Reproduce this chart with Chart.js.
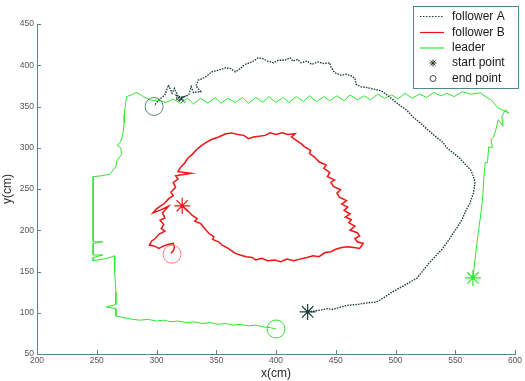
<!DOCTYPE html>
<html lang="en">

<head>
    <meta charset="UTF-8" />
    <title>Leader / followers trajectories</title>
    <script src="https://cdn.jsdelivr.net/npm/chart.js"></script>
    <style>
        body {
            margin: 0;
            background: #ffffff;
        }

        .chart-box {
            width: 525px;
            height: 381px;
        }
    </style>
</head>

<body>
    <div class="chart-box">
        <canvas id="trajChart" width="525" height="381"></canvas>
    </div>

    <script>
        // Axes
        const xTicks = [200, 250, 300, 350, 400, 450, 500, 550, 600];
        const yTicks = [50, 100, 150, 200, 250, 300, 350, 400, 450];

        // Legend entries
        const legendNames = ["follower A", "follower B", "leader", "start point", "end point"];

        // follower A trajectory [x, y] in cm
        const followerA = [
            [426.5, 101], [431, 102], [436, 103], [443, 105], [447, 104], [452, 106], [460, 109], [468, 110],
            [476, 112], [484, 113], [490, 118], [496, 124], [501, 128], [507, 133], [512, 137], [518, 142],
            [523, 151], [528, 160], [533, 168], [539, 177], [545, 189], [548, 196], [552, 204], [556, 214],
            [559, 224], [562, 232], [565, 244], [566, 252], [566.5, 259], [565, 266], [563, 273], [559, 279],
            [554, 287], [548, 294], [543, 300], [540, 306], [535, 312], [530, 318], [526, 323], [520, 331],
            [515, 337], [509, 346], [504, 351], [498, 358], [493, 364], [488, 369], [482, 371], [476, 373],
            [471, 374], [467, 377], [466, 384], [463, 387], [459, 389], [454, 388], [449, 391], [446, 398],
            [445, 403], [440, 402], [435, 404], [430, 401], [426, 405], [421, 403], [418, 407], [414, 405],
            [412, 409], [407, 406], [402, 406], [398, 403], [393, 405], [389, 408], [385, 409], [380, 404],
            [374, 401], [370, 396], [366, 392], [362, 396], [358, 397], [352, 394], [346, 392], [343, 388],
            [341, 386], [337, 383], [335, 382], [333, 375], [337, 368], [331, 367], [329, 374], [327, 364],
            [322, 361], [317, 363], [321, 358], [324, 355], [319, 362], [322, 359], [318, 357], [323, 362],
            [316, 360], [320, 356], [315, 372], [313, 366], [310, 376], [307, 364], [302, 358], [298, 351]
        ];

        // follower B trajectory
        const followerB = [
            [321.5, 229.6], [326, 224], [330, 218], [334, 214], [332, 211], [337, 208], [341, 201], [344, 196],
            [348, 192], [347, 189], [352, 186], [355, 182], [359, 179], [363, 175], [366, 172], [370, 170],
            [375, 168], [380, 167], [383, 164], [388, 166], [393, 163], [399, 164], [404, 162], [409, 165],
            [415, 163], [420, 165], [426, 167], [431, 169], [436, 168], [441, 173], [446, 174], [450, 177],
            [455, 179], [460, 180], [465, 179], [470, 178], [473, 184], [468, 186], [466, 190], [470, 193],
            [468, 197], [462, 200], [466, 205], [461, 209], [463, 213], [458, 216], [462, 220], [457, 224],
            [460, 228], [455, 232], [459, 236], [453, 240], [451, 245], [454, 249], [448, 253], [446, 258],
            [449, 261], [443, 265], [445, 270], [440, 275], [442, 279], [436, 283], [432, 289], [428, 293],
            [429, 297], [424, 301], [421, 305], [417, 309], [413, 313], [416, 317], [410, 316], [405, 318],
            [400, 316], [395, 318], [391, 315], [386, 314], [381, 313], [377, 311], [373, 315], [368, 316],
            [363, 318], [358, 317], [352, 313], [346, 310], [341, 306], [337, 302], [333, 297], [330, 292],
            [326, 287], [324, 282], [320, 276], [318, 271], [329, 269], [316, 266], [318, 262], [314, 258],
            [316, 252], [312, 246], [314, 242], [310, 238], [307, 233], [300, 226], [297, 221], [304, 225],
            [310, 229], [305, 221], [307, 215], [303, 212], [306, 207], [304, 202], [307, 199], [302, 195],
            [299, 190], [296, 187], [294, 182], [298, 181], [302, 178], [306, 181], [310, 183], [314, 184],
            [315, 179], [314, 175], [312, 172]
        ];

        // leader trajectory
        const leader = [
            [564.8, 142.2], [567, 170], [569, 195], [571, 215], [573, 240], [574, 265], [575, 282], [577, 282],
            [578, 301], [581, 300], [580, 310], [582, 313], [584, 322], [586, 334], [590, 326], [589, 338],
            [592, 346], [595, 342], [586, 348], [580, 358], [573, 364], [571.5, 366.7],
            [563, 365], [556, 368], [549, 362], [543, 366], [538, 363], [532, 367], [526, 361], [520, 365],
            [514, 360], [508, 366], [502, 359], [497, 364], [491, 360], [485, 365], [479, 358], [474, 363],
            [468, 358], [462, 364], [457, 357], [451, 363], [445, 357], [440, 362], [434, 356], [428, 363],
            [423, 356], [417, 362], [411, 355], [406, 361], [400, 355], [394, 362], [389, 355], [383, 361],
            [377, 354], [372, 361], [366, 355], [360, 360], [354, 354], [349, 361], [343, 354], [337, 360],
            [331, 353], [326, 360], [320, 354], [314, 359], [308, 355],
            [301, 358], [296, 357], [292, 360], [289, 362], [286, 365], [283, 367], [279, 364], [275, 362],
            [274, 352], [273, 340], [273, 330], [272, 318], [270, 307], [267, 303], [270, 300], [271, 292],
            [267, 285], [266, 277], [261, 268], [254, 266], [247, 265], [247, 240], [247, 210], [247, 186],
            [255, 186], [247, 184], [247, 170], [255, 170], [247, 167], [247, 163], [259, 166], [265, 169],
            [265, 150], [266, 125], [266, 110], [258, 107], [266, 105], [266, 96], [273, 94], [280, 92],
            [286, 91], [293, 92], [300, 90], [306, 91], [312, 89], [318, 90], [325, 88], [331, 89],
            [338, 87], [345, 88], [351, 86], [358, 87], [364, 85], [370, 86], [377, 84], [383, 85],
            [389, 83], [395, 82], [400, 80.3]
        ];

        // start / end points (A, B, leader)
        const startPoints = [[426.5, 101], [321.5, 229.6], [564.8, 142.2]];
        const endPoints = [[298, 350], [313, 171], [400, 80.3]];

        const colA = "#1e3c3c";
        const colB = "#f01414";
        const colL = "#2ee62e";
        const axisCol = "#4f8a8a";

        const toXY = arr => arr.map(p => ({ x: p[0], y: p[1] }));

        // inward tick marks, MATLAB style
        const tickMarks = {
            id: "tickMarks",
            afterDraw(chart) {
                const ctx = chart.ctx;
                const xs = chart.scales.x, ys = chart.scales.y;
                const area = chart.chartArea;
                ctx.save();
                ctx.strokeStyle = axisCol;
                ctx.lineWidth = 1;
                ctx.beginPath();
                xTicks.forEach(v => {
                    const px = Math.round(xs.getPixelForValue(v)) + 0.5;
                    ctx.moveTo(px, area.bottom);
                    ctx.lineTo(px, area.bottom - 4);
                });
                yTicks.forEach(v => {
                    const py = Math.round(ys.getPixelForValue(v)) + 0.5;
                    ctx.moveTo(area.left, py);
                    ctx.lineTo(area.left + 4, py);
                });
                ctx.stroke();
                ctx.restore();
            }
        };

        // boxed legend in the top right corner
        const boxLegend = {
            id: "boxLegend",
            afterDraw(chart) {
                const ctx = chart.ctx;
                const bx = 413.5, by = 6.5, bw = 105, bh = 82;
                const rows = [16.5, 32.5, 48, 63, 78.5];
                ctx.save();
                ctx.fillStyle = "#ffffff";
                ctx.fillRect(bx, by, bw, bh);
                ctx.strokeStyle = axisCol;
                ctx.lineWidth = 1;
                ctx.strokeRect(bx, by, bw, bh);

                // samples
                ctx.lineWidth = 1.2;
                ctx.setLineDash([1.5, 1.5]);
                ctx.strokeStyle = colA;
                ctx.beginPath(); ctx.moveTo(420, rows[0]); ctx.lineTo(444, rows[0]); ctx.stroke();
                ctx.setLineDash([]);
                ctx.strokeStyle = colB;
                ctx.beginPath(); ctx.moveTo(420, rows[1]); ctx.lineTo(444, rows[1]); ctx.stroke();
                ctx.strokeStyle = colL;
                ctx.beginPath(); ctx.moveTo(420, rows[2]); ctx.lineTo(444, rows[2]); ctx.stroke();
                ctx.strokeStyle = "#333333";
                ctx.fillStyle = "#333333";
                ctx.lineWidth = 1;
                Chart.helpers.drawPoint(ctx, { pointStyle: "star", radius: 3.5, borderWidth: 1 }, 433, rows[3]);
                ctx.strokeStyle = "#444444";
                ctx.beginPath(); ctx.arc(433, rows[4], 3, 0, Math.PI * 2); ctx.stroke();

                ctx.fillStyle = "#1a1a1a";
                ctx.font = "12px 'Liberation Sans', Arial, sans-serif";
                ctx.textBaseline = "middle";
                legendNames.forEach((t, i) => ctx.fillText(t, 452, rows[i]));
                ctx.restore();
            }
        };

        const tickFont = { family: "'Liberation Sans', Arial, sans-serif", size: 8.5 };

        new Chart(document.getElementById("trajChart"), {
            type: "scatter",
            data: {
                datasets: [
                    {
                        label: "start point", data: toXY(startPoints), pointStyle: "star", pointRadius: 8,
                        pointBorderWidth: 1.2, pointBorderColor: [colA, colB, colL], pointBackgroundColor: [colA, colB, colL],
                        showLine: false, order: 0
                    },
                    {
                        label: "end point", data: toXY(endPoints), pointStyle: "circle", pointRadius: 9,
                        pointBorderWidth: 1, pointBorderColor: ["#5c8484", "#ff7a7a", colL], pointBackgroundColor: "rgba(0,0,0,0)",
                        showLine: false, order: 1
                    },
                    {
                        label: "follower A", data: toXY(followerA), showLine: true, borderColor: colA, borderWidth: 1.4,
                        borderDash: [1.5, 1.2], pointRadius: 0, tension: 0, order: 2
                    },
                    {
                        label: "follower B", data: toXY(followerB), showLine: true, borderColor: colB, borderWidth: 1.5,
                        pointRadius: 0, tension: 0, order: 3
                    },
                    {
                        label: "leader", data: toXY(leader), showLine: true, borderColor: colL, borderWidth: 1,
                        pointRadius: 0, tension: 0, order: 4
                    }
                ]
            },
            options: {
                responsive: false,
                animation: false,
                layout: { padding: { top: 24, right: 5, left: 0, bottom: 0 } },
                plugins: {
                    legend: { display: false },
                    tooltip: { enabled: false }
                },
                scales: {
                    x: {
                        type: "linear",
                        min: xTicks[0],
                        max: xTicks[xTicks.length - 1],
                        afterBuildTicks: s => { s.ticks = xTicks.map(v => ({ value: v })); },
                        afterFit: s => { s.height = 27; },
                        grid: { display: false, drawTicks: false, tickLength: 0 },
                        border: { display: true, color: axisCol, width: 1 },
                        ticks: { font: tickFont, color: "#555555", padding: 2, maxRotation: 0, autoSkip: false },
                        title: {
                            display: true, text: "x(cm)", color: "#2a2a2a", padding: { top: 0, bottom: 0 },
                            font: { family: "'Liberation Sans', Arial, sans-serif", size: 12 }
                        }
                    },
                    y: {
                        type: "linear",
                        min: yTicks[0],
                        max: yTicks[yTicks.length - 1],
                        afterBuildTicks: s => { s.ticks = yTicks.map(v => ({ value: v })); },
                        afterFit: s => { s.width = 37; },
                        grid: { display: false, drawTicks: false, tickLength: 0 },
                        border: { display: true, color: axisCol, width: 1 },
                        ticks: { font: tickFont, color: "#555555", padding: 3, autoSkip: false },
                        title: {
                            display: true, text: "y(cm)", color: "#2a2a2a", padding: { top: 0, bottom: 0 },
                            font: { family: "'Liberation Sans', Arial, sans-serif", size: 12 }
                        }
                    }
                }
            },
            plugins: [tickMarks, boxLegend]
        });
    </script>
</body>

</html>
